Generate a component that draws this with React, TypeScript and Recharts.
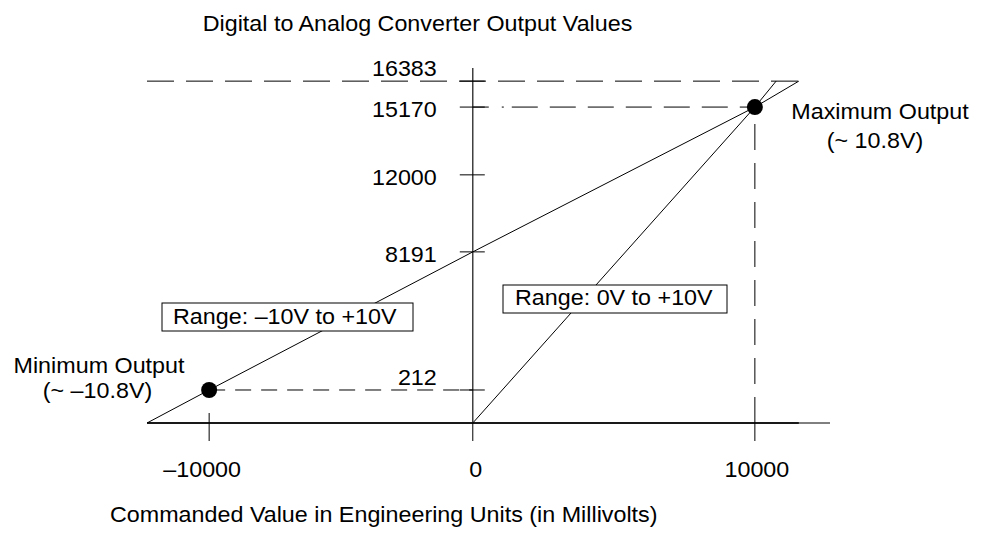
import React from "react"
import { ComposedChart, Line, XAxis, YAxis, ReferenceLine, ReferenceDot } from "recharts"

// commanded value (mV) against DAC output counts
const bipolarX = [-12350, -10000, 0, 10000, 11550]
const bipolarY = [0, 212, 8191, 15170, 16383]
const unipolarX = [0, 10000, 10750]
const unipolarY = [0, 15170, 16383]

const minOutput = { x: -10000, y: 212 }
const maxOutput = { x: 10000, y: 15170 }

const xTicks = [-10000, 0, 10000]
const yTicks = [212, 8191, 12000, 15170, 16383]
const xDomain = [-12350, 12650]
const yDomain = [0, 17000]

// the drawing is not to scale: piecewise scales, knot value -> share of the axis length
const xKnots = [-12350, -10000, 0, 10000, 12650]
const xStops = [0, 0.091, 0.477, 0.89, 1]
const yKnots = [0, 212, 8191, 12000, 16383, 17000]
const yStops = [0, 0.093, 0.482, 0.699, 0.963, 1]

const bipolar = bipolarX.map((x, i) => ({ x, y: bipolarY[i] }))
const unipolar = unipolarX.map((x, i) => ({ x, y: unipolarY[i] }))

function warpScale(knots: number[], stops: number[]): any {
  let dom = [knots[0], knots[knots.length - 1]]
  let rng = [0, 1]
  const last = knots.length - 1
  const toT = (v: number) => {
    let i = 0
    while (i < last - 1 && v > knots[i + 1]) i++
    return stops[i] + ((v - knots[i]) / (knots[i + 1] - knots[i])) * (stops[i + 1] - stops[i])
  }
  const fromT = (t: number) => {
    let i = 0
    while (i < last - 1 && t > stops[i + 1]) i++
    return knots[i] + ((t - stops[i]) / (stops[i + 1] - stops[i])) * (knots[i + 1] - knots[i])
  }
  const s: any = (v: any) => {
    if (v == null || isNaN(+v)) return NaN
    return rng[0] + toT(+v) * (rng[1] - rng[0])
  }
  s.domain = (d?: number[]) => {
    if (d === undefined) return dom.slice()
    dom = d.slice()
    return s
  }
  s.range = (r?: number[]) => {
    if (r === undefined) return rng.slice()
    rng = r.slice()
    return s
  }
  s.copy = () => warpScale(knots, stops).domain(dom).range(rng)
  s.ticks = () => knots.slice()
  s.tickFormat = () => (v: number) => String(v)
  s.invert = (px: number) => fromT((px - rng[0]) / (rng[1] - rng[0]))
  s.clamp = () => s
  s.nice = () => s
  return s
}

const xScale = warpScale(xKnots, xStops)
const yScale = warpScale(yKnots, yStops)

const FONT = '"Liberation Sans", Arial, Helvetica, sans-serif'
const SX = 1.06

const SText = ({ x, y, anchor = "start", children }: any) => (
  <text
    transform={`translate(${x},${y}) scale(${SX},1)`}
    textAnchor={anchor}
    fontFamily={FONT}
    fontSize={22}
    fill="#000"
  >
    {children}
  </text>
)

const fmt = (v: number) => (v < 0 ? "\u2013" + Math.abs(v) : String(v))

const XTick = (props: any) => {
  const { x, y, payload } = props
  const v = payload.value
  const dx = v < 0 ? -7 : v > 0 ? 2 : 3
  return (
    <g>
      {v === xTicks[0] && <line x1={x} x2={x} y1={y - 30} y2={y - 20} stroke="#000" />}
      <SText x={x + dx} y={y + 34} anchor="middle">
        {fmt(v)}
      </SText>
    </g>
  )
}

const yLabelAbove = [212, 16383]

const yTickShape = (v: number) => (p: any) => {
  const { cx, cy } = p
  const dy = yLabelAbove.includes(v) ? -5 : 10
  return (
    <g>
      <line x1={cx - 13} x2={cx + 12} y1={cy} y2={cy} stroke="#000" />
      <SText x={cx - 36} y={cy + dy} anchor="end">
        {v}
      </SText>
    </g>
  )
}

// dot near the axis, then plain dashes
const dashDot = "16 13 2 8 26 12 26 12 26 12 26 12 26 12 26 12 26 12 26 12"

export default function App() {
  return (
    <div style={{ position: "absolute", left: 0, top: 0, width: 982, height: 533, background: "#fff" }}>
      <ComposedChart width={982} height={533} margin={{ top: 68, right: 152, bottom: 50, left: 147 }}>
        <XAxis
          dataKey="x"
          type="number"
          domain={xDomain}
          scale={xScale}
          ticks={xTicks}
          interval={0}
          height={60}
          tickSize={18}
          tickMargin={2}
          axisLine={{ stroke: "#000", strokeWidth: 1 }}
          tickLine={{ stroke: "#000" }}
          tick={<XTick />}
          allowDataOverflow
        />
        <YAxis dataKey="y" type="number" domain={yDomain} scale={yScale} hide allowDataOverflow />

        <ReferenceLine x={0} stroke="#222" strokeWidth={1.3} />
        <ReferenceLine
          segment={[{ x: xDomain[0], y: 0 }, { x: bipolarX[bipolarX.length - 1], y: 0 }]}
          stroke="#333"
          strokeWidth={2}
        />

        <ReferenceLine
          segment={[{ x: xDomain[0], y: 16383 }, { x: bipolarX[bipolarX.length - 1], y: 16383 }]}
          stroke="#000"
          strokeDasharray="27 12"
        />
        <ReferenceLine
          segment={[{ x: 0, y: maxOutput.y }, { x: maxOutput.x, y: maxOutput.y }]}
          stroke="#000"
          strokeDasharray={dashDot}
        />
        <ReferenceLine
          segment={[{ x: maxOutput.x, y: 0 }, { x: maxOutput.x, y: maxOutput.y }]}
          stroke="#000"
          strokeDasharray="26 13"
        />
        <ReferenceLine
          segment={[{ x: minOutput.x, y: minOutput.y }, { x: 0, y: minOutput.y }]}
          stroke="#000"
          strokeDasharray="16 10"
        />

        {yTicks.map((v) => (
          <ReferenceDot key={v} x={0} y={v} r={0} shape={yTickShape(v)} />
        ))}

        <Line
          data={bipolar}
          dataKey="y"
          type="linear"
          stroke="#000"
          strokeWidth={1}
          dot={false}
          isAnimationActive={false}
        />
        <Line
          data={unipolar}
          dataKey="y"
          type="linear"
          stroke="#000"
          strokeWidth={1}
          dot={false}
          isAnimationActive={false}
        />

        <ReferenceDot x={minOutput.x} y={minOutput.y} r={8} fill="#000" stroke="none" />
        <ReferenceDot x={maxOutput.x} y={maxOutput.y} r={8} fill="#000" stroke="none" />
      </ComposedChart>

      <svg width={982} height={533} style={{ position: "absolute", left: 0, top: 0, pointerEvents: "none" }}>
        <SText x={417.5} y={31} anchor="middle">
          Digital to Analog Converter Output Values
        </SText>
        <SText x={110} y={522}>
          Commanded Value in Engineering Units (in Millivolts)
        </SText>

        <rect x={162} y={303} width={251} height={28} fill="#fff" stroke="#000" />
        <SText x={173} y={324}>
          Range: –10V to +10V
        </SText>
        <rect x={503} y={285} width={224} height={28} fill="#fff" stroke="#000" />
        <SText x={515} y={305}>
          Range: 0V to +10V
        </SText>

        <SText x={99} y={373} anchor="middle">
          Minimum Output
        </SText>
        <SText x={97.5} y={398} anchor="middle">
          (~ –10.8V)
        </SText>
        <SText x={880} y={119} anchor="middle">
          Maximum Output
        </SText>
        <SText x={875} y={148} anchor="middle">
          (~ 10.8V)
        </SText>
      </svg>
    </div>
  )
}
